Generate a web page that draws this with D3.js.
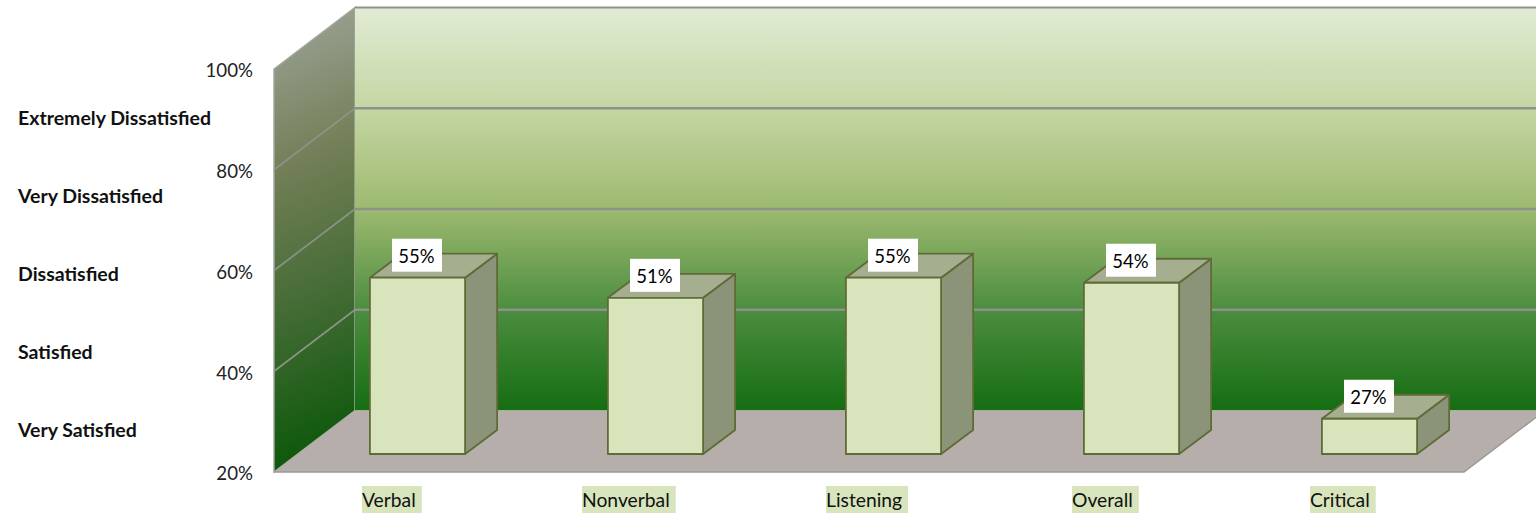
<!DOCTYPE html>
<html><head><meta charset="utf-8">
<script src="https://cdn.jsdelivr.net/npm/d3@7/dist/d3.min.js"></script>
<style>html,body{margin:0;padding:0;background:#fff;overflow:hidden}svg{display:block}text{font-family:Lato,"Open Sans",sans-serif}</style>
</head><body><svg id="c" width="1536" height="514"></svg>
<script>
const categories = ["Verbal","Nonverbal","Listening","Overall","Critical"];
const values = [55,51,55,54,27];
const valueLabels = ["55%","51%","55%","54%","27%"];
const yTicks = [20,40,60,80,100];
const scaleLabels = ["Extremely Dissatisfied","Very Dissatisfied","Dissatisfied","Satisfied","Very Satisfied"];
const catLabelShift = [-31,-49,-43,-35,-35];
const wallStops = [[0,"#e1ebd4"],[0.25,"#c5d6a3"],[0.5,"#9dba70"],[0.75,"#4c8d3f"],[1,"#156d12"]];
const sideStops = [[0,"#949c8a"],[0.3,"#727e56"],[0.62,"#456c36"],[1,"#0c580a"]];

const svg = d3.select("#c");
const x = d3.scaleBand().domain(categories).range([274,1464]);
const y = d3.scaleLinear().domain([20,100]).range([472,69]);
const depthX = 81, depthY = -61.5;
const barDX = 24.5, barDY = -18, barDepthX = 32, barDepthY = -24;
const barW = x.bandwidth()*0.4;
const x0 = x.range()[0], x1 = x.range()[1];
const poly = p => p.map(d=>d.join(",")).join(" ");

const defs = svg.append("defs");
const wg = defs.append("linearGradient").attr("id","wall").attr("gradientUnits","userSpaceOnUse")
  .attr("x1",0).attr("x2",0).attr("y1",y(100)+depthY).attr("y2",y(20)+depthY);
wg.selectAll("stop").data(wallStops).join("stop").attr("offset",d=>d[0]).attr("stop-color",d=>d[1]);
const sg = defs.append("linearGradient").attr("id","side").attr("gradientUnits","userSpaceOnUse")
  .attr("x1",x0).attr("y1",y(100)-20).attr("x2",x0+depthX+70).attr("y2",y(20)+depthY);
sg.selectAll("stop").data(sideStops).join("stop").attr("offset",d=>d[0]).attr("stop-color",d=>d[1]);

const gridC = "#8d9388";
// side wall
svg.append("polygon").attr("points",poly([[x0,y(20)],[x0,y(100)],[x0+depthX,y(100)+depthY],[x0+depthX,y(20)+depthY]]))
  .attr("fill","url(#side)").attr("stroke","#a3a89c").attr("stroke-width",1.5);
// back wall
svg.append("rect").attr("x",x0+depthX).attr("y",y(100)+depthY).attr("width",x1-x0).attr("height",y(20)-y(100))
  .attr("fill","url(#wall)");
svg.append("line").attr("x1",x0+depthX).attr("x2",x1+depthX).attr("y1",y(100)+depthY).attr("y2",y(100)+depthY)
  .attr("stroke",gridC).attr("stroke-width",2);
// floor
svg.append("polygon").attr("points",poly([[x0,y(20)],[x1,y(20)],[x1+depthX,y(20)+depthY],[x0+depthX,y(20)+depthY]]))
  .attr("fill","#b5aeab").attr("stroke","none");
svg.append("path").attr("d",d3.line()([[x0,y(20)],[x1,y(20)],[x1+depthX,y(20)+depthY]]))
  .attr("fill","none").attr("stroke","#9a9a94").attr("stroke-width",1.5);
// gridlines
const gt = yTicks.slice(1,-1);
svg.selectAll(".gb").data(gt).join("line").attr("class","gb").attr("x1",x0+depthX).attr("x2",x1+depthX)
  .attr("y1",d=>y(d)+depthY).attr("y2",d=>y(d)+depthY).attr("stroke",gridC).attr("stroke-width",2.4);
svg.selectAll(".gs").data(gt).join("line").attr("class","gs").attr("x1",x0).attr("x2",x0+depthX)
  .attr("y1",d=>y(d)).attr("y2",d=>y(d)+depthY).attr("stroke",gridC).attr("stroke-width",1.6);

// bars
const data = categories.map((c,i)=>({c,v:values[i],l:valueLabels[i],s:catLabelShift[i]}));
const bars = svg.selectAll(".bar").data(data).join("g").attr("class","bar")
  .attr("stroke","#5f6b35").attr("stroke-width",1.8).attr("stroke-linejoin","round");
const bx = d=>x(d.c)+x.bandwidth()/2+barDX-barW/2;
const base = y(20)+barDY;
const barTop = d=>base-(y(20)-y(d.v));
bars.append("polygon").attr("fill","#8b9478").attr("points",d=>{const r=bx(d)+barW;return poly([[r,barTop(d)],[r+barDepthX,barTop(d)+barDepthY],[r+barDepthX,base+barDepthY],[r,base]]);});
bars.append("polygon").attr("fill","#a6ae90").attr("points",d=>{const l=bx(d),r=l+barW,t=barTop(d);return poly([[l,t],[l+barDepthX,t+barDepthY],[r+barDepthX,t+barDepthY],[r,t]]);});
bars.append("rect").attr("fill","#d8e4bc").attr("x",bx).attr("y",barTop).attr("width",barW).attr("height",d=>base-barTop(d));
// value labels
const vl = svg.selectAll(".vl").data(data).join("g").attr("class","vl");
vl.append("rect").attr("fill","#fff").attr("x",d=>bx(d)+barW/2-25.5).attr("y",d=>barTop(d)-39).attr("width",50).attr("height",33);
vl.append("text").attr("x",d=>bx(d)+barW/2-1).attr("y",d=>barTop(d)-22).attr("text-anchor","middle").attr("dominant-baseline","central")
  .attr("font-size",18.5).attr("fill","#000").text(d=>d.l);

// y axis
const ax = svg.append("g").attr("transform","translate(253,2)").call(d3.axisLeft(y).tickValues(yTicks).tickSize(0).tickPadding(0).tickFormat(d=>d+"%"));
ax.select(".domain").remove();
ax.selectAll("text").attr("font-size",18.7).attr("fill","#222").style("font-family","Lato");

// scale annotation
const sy = d3.scalePoint().domain(scaleLabels).range([117,429]);
svg.selectAll(".sl").data(scaleLabels).join("text").attr("class","sl").attr("x",18).attr("y",d=>sy(d)).attr("dominant-baseline","central")
  .attr("font-size",19.5).attr("font-weight",700).attr("fill","#111").text(d=>d);

// category labels
const cg = svg.selectAll(".cl").data(data).join("g").attr("class","cl");
cg.append("text").attr("x",d=>x(d.c)+x.bandwidth()/2+d.s).attr("y",499.5).attr("dominant-baseline","central")
  .attr("font-size",19.3).attr("fill","#111").text(d=>d.c);
cg.insert("rect","text").attr("fill","#d8e4bc").each(function(){
  const b=this.parentNode.querySelector("text").getBBox();
  d3.select(this).attr("x",b.x).attr("width",b.width+6).attr("y",486).attr("height",27);
});
</script></body></html>
